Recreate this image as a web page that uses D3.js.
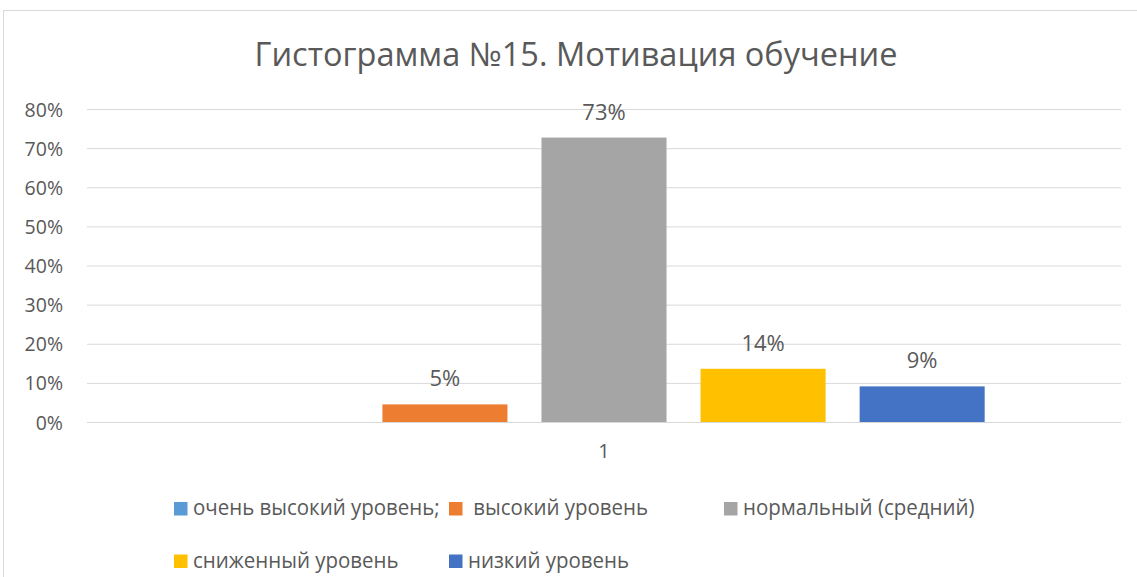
<!DOCTYPE html>
<html>
<head>
<meta charset="utf-8">
<script src="https://cdn.jsdelivr.net/npm/d3@7"></script>
<style>
  body { margin: 0; background: #fff; }
  #chart text { font-family: "Open Sans", "Noto Sans", sans-serif; fill: #595959; }
</style>
</head>
<body>
<div id="chart"></div>
<script>
// chart values
const title = "Гистограмма №15. Мотивация обучение";
const categories = ["1"];
const seriesNames = ["очень высокий уровень;", " высокий уровень", "нормальный (средний)", "сниженный уровень", "низкий уровень"];
const seriesValues = [null, 0.045, 0.727, 0.136, 0.091];
const seriesColors = ["#5B9BD5", "#ED7D31", "#A5A5A5", "#FFC000", "#4472C4"];
const yTicks = [0, 0.1, 0.2, 0.3, 0.4, 0.5, 0.6, 0.7, 0.8];

function drawChart() {
	var width = 1137, height = 577;
	var plot = { left: 87, right: 1121, top: 109, bottom: 422 };

	var svg = d3.select("#chart")
		.append("svg")
		.attr("width", width)
		.attr("height", height);

	// chart area border
	svg.append("rect")
		.attr("x", 3.5)
		.attr("y", 10.5)
		.attr("width", 1160)
		.attr("height", 620)
		.attr("fill", "#fff")
		.attr("stroke", "#d9d9d9");

	svg.append("text")
		.attr("x", 576)
		.attr("y", 66)
		.attr("text-anchor", "middle")
		.style("font-size", "32.5px")
		.text(title);

	var y = d3.scaleLinear()
		.domain([0, 0.8])
		.range([plot.bottom, plot.top]);

	// category scale and the series inside it
	var x0 = d3.scaleBand()
		.domain(categories)
		.range([plot.left, plot.right])
		.paddingInner(0)
		.paddingOuter(0.15);

	var x1 = d3.scaleBand()
		.domain(d3.range(seriesNames.length))
		.range([0, x0.bandwidth()])
		.paddingInner(0.214)
		.paddingOuter(0.107);

	// gridlines + y labels
	var yAxis = svg.append("g")
		.attr("transform", "translate(" + plot.left + ",0)")
		.call(d3.axisLeft(y)
			.tickValues(yTicks)
			.tickFormat(d3.format(".0%"))
			.tickSize(-(plot.right - plot.left))
			.tickPadding(24));
	yAxis.select(".domain").remove();
	yAxis.selectAll(".tick line").attr("stroke", "#d9d9d9");
	yAxis.selectAll(".tick text")
		.style("font-size", "19.5px")
		.attr("dy", "0.36em");

	// x axis label
	var xAxis = svg.append("g")
		.attr("transform", "translate(0," + plot.bottom + ")")
		.call(d3.axisBottom(x0).tickSize(0).tickPadding(22));
	xAxis.select(".domain").remove();
	xAxis.selectAll(".tick text")
		.style("font-size", "20px")
		.attr("dy", "0.71em");

	var rows = seriesNames.map((name, i) => ({ name: name, value: seriesValues[i], color: seriesColors[i], i: i }));
	var withValue = rows.filter(d => d.value != null);

	var group = svg.append("g")
		.attr("transform", "translate(" + x0(categories[0]) + ",0)");

	group.selectAll("rect")
		.data(withValue)
		.enter()
		.append("rect")
		.attr("x", d => x1(d.i))
		.attr("y", d => y(d.value))
		.attr("width", x1.bandwidth())
		.attr("height", d => y(0) - y(d.value))
		.attr("fill", d => d.color);

	group.selectAll(".lbl")
		.data(withValue)
		.enter()
		.append("text")
		.attr("class", "lbl")
		.attr("x", d => x1(d.i) + x1.bandwidth() / 2)
		.attr("y", d => y(d.value) - 18)
		.attr("text-anchor", "middle")
		.style("font-size", "22px")
		.text(d => d3.format(".0%")(d.value));

	// legend, 3 per row
	var legend = svg.append("g")
		.selectAll("g")
		.data(rows)
		.enter()
		.append("g")
		.attr("transform", d => "translate(" + (174 + (d.i % 3) * 275) + "," + (502 + Math.floor(d.i / 3) * 52.5) + ")");

	legend.append("rect")
		.attr("width", 13.5)
		.attr("height", 13.5)
		.attr("fill", d => d.color);

	// squeeze the text a bit, the original font is narrower
	legend.append("text")
		.attr("x", 19)
		.attr("y", 13)
		.style("font-size", "22px")
		.style("white-space", "pre")
		.text(d => d.name)
		.each(function () {
			var w = this.getComputedTextLength();
			d3.select(this)
				.attr("textLength", w * 0.93)
				.attr("lengthAdjust", "spacingAndGlyphs");
		});
}

drawChart();
</script>
</body>
</html>
